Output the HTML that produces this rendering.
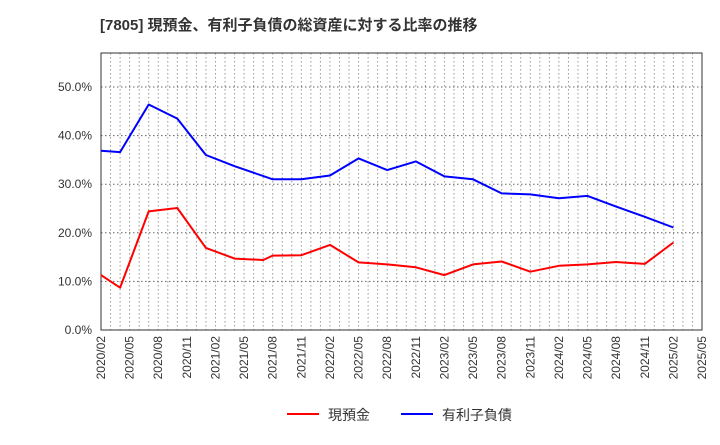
<!DOCTYPE html>
<html><head><meta charset="utf-8"><style>
body{margin:0;background:#fff;font-family:"Liberation Sans","Noto Sans CJK JP",sans-serif;}
</style></head><body>
<svg width="720" height="440" xmlns="http://www.w3.org/2000/svg" font-family="Liberation Sans, Noto Sans CJK JP, sans-serif">
<text x="100" y="30" font-size="15" font-weight="bold" fill="#333">[7805]  現預金、有利子負債の総資産に対する比率の推移</text>
<g id="grid"></g>
<rect x="101" y="53" width="601" height="277" fill="none" stroke="#333" stroke-width="1"/>
<g id="axes"></g>
<g id="series"></g>
<g>
<line x1="287" y1="414" x2="319" y2="414" stroke="#f00" stroke-width="2"/>
<text x="328" y="420" font-size="14" fill="#333">現預金</text>
<line x1="401" y1="414" x2="433" y2="414" stroke="#00f" stroke-width="2"/>
<text x="442" y="420" font-size="14" fill="#333">有利子負債</text>
</g>
</svg>
<script>
const monthOffsets=[0,2,5,8,11,14,17,18,21,24,27,30,33,36,39,42,45,48,51,54,57,60];
const cashPct=[11.3,8.7,24.4,25.1,16.9,14.7,14.4,15.3,15.4,17.5,13.9,13.5,12.9,11.3,13.5,14.1,12.0,13.2,13.5,14.0,13.6,18.0];
const debtPct=[36.9,36.6,46.4,43.5,36.0,33.7,null,31.0,31.0,31.8,35.3,32.9,34.7,31.6,31.0,28.1,27.9,27.1,27.6,25.4,23.3,21.1];
const xTickLabels=["2020/02","2020/05","2020/08","2020/11","2021/02","2021/05","2021/08","2021/11","2022/02","2022/05","2022/08","2022/11","2023/02","2023/05","2023/08","2023/11","2024/02","2024/05","2024/08","2024/11","2025/02","2025/05"];
const yTicks=[0,10,20,30,40,50];
const NS="http://www.w3.org/2000/svg";
const x0=101,x1=702,y0=330,pxPerPct=4.86,totalMonths=63;
const xs=m=>x0+m*(x1-x0)/totalMonths;
const ys=v=>y0-v*pxPerPct;
function mk(t,a,p){const e=document.createElementNS(NS,t);for(const k in a)e.setAttribute(k,a[k]);p.appendChild(e);return e;}
const grid=document.getElementById('grid'),axes=document.getElementById('axes'),ser=document.getElementById('series');
for(let m=1;m<totalMonths;m++){
 const l=mk('line',{x1:xs(m),x2:xs(m),y1:53,y2:330,stroke:'#999','stroke-dasharray':'1.5,2.5'},grid);
 
 
}
yTicks.forEach(v=>{
 if(v>0){const l=mk('line',{x1:x0,x2:x1,y1:ys(v),y2:ys(v),stroke:'#666','stroke-dasharray':'1.5,2.5'},grid);
 
 }
 const t=mk('text',{x:92,y:ys(v)+4,'text-anchor':'end','font-size':12,fill:'#333'},axes);
 t.textContent=v.toFixed(1)+'%';
 
 
});
xTickLabels.forEach((s,i)=>{
 const x=xs(i*3);
 const t=mk('text',{x:0,y:0,'text-anchor':'end','font-size':12,fill:'#333',transform:`translate(${x+4},336) rotate(-90)`},axes);
 t.textContent=s;
 
 
});
function line(vals,color,name){
 let d='';vals.forEach((v,i)=>{if(v==null)return;d+=(d?'L':'M')+xs(monthOffsets[i]).toFixed(1)+','+ys(v).toFixed(1);});
 const p=mk('path',{d:d,fill:'none',stroke:color,'stroke-width':2,'stroke-linejoin':'round'},ser);
 
 
}
line(debtPct,'#00f','debt-ratio-line');
line(cashPct,'#f00','cash-ratio-line');
</script>
</body></html>
